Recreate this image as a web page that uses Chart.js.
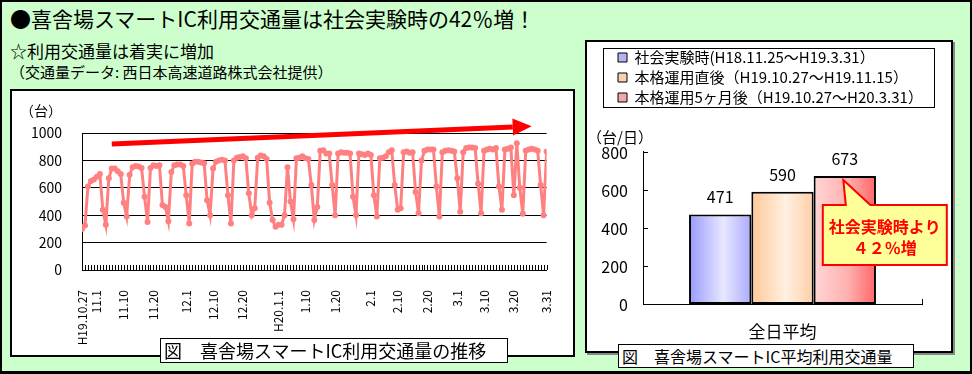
<!DOCTYPE html>
<html lang="ja">
<head>
<meta charset="utf-8">
<title>喜舎場スマートIC利用交通量</title>
<script src="https://cdn.jsdelivr.net/npm/chart.js@4/dist/chart.umd.min.js"></script>
<style>
  body { margin: 0; font-family: 'Noto Sans CJK JP', sans-serif; }
  #frame { position: relative; width: 972px; height: 374px; background: #ccffcc; box-shadow: inset 0 0 0 2px #000; overflow: hidden; }
  .txt { position: absolute; left: 10px; white-space: nowrap; color: #000; }
  .panel { position: absolute; background: #fff; border: 2px solid #000; box-sizing: border-box; }
  .panel canvas { position: absolute; left: 0; top: 0; }
  .cap { position: absolute; background: #fff; border: 1px solid #000; box-sizing: border-box; white-space: nowrap; padding-left: 3px; color: #000; }
</style>
</head>
<body>
<div id="frame">
  <div class="txt" style="top:6px;font-size:21px;line-height:25px;">●喜舎場スマートIC利用交通量は社会実験時の42％増！</div>
  <div class="txt" style="top:40px;font-size:17px;line-height:21px;">☆利用交通量は着実に増加</div>
  <div class="txt" style="top:63px;font-size:15px;line-height:18px;">（交通量データ: 西日本高速道路株式会社提供）</div>

  <div class="panel" style="left:10px;top:89px;width:565px;height:268px;">
    <canvas id="trendChart" width="561" height="264"></canvas>
  </div>
  <div class="cap" style="left:160px;top:338px;width:348px;height:25px;font-size:18px;line-height:23px;">図　喜舎場スマートIC利用交通量の推移</div>

  <div class="panel" style="left:585px;top:40px;width:368px;height:313px;box-shadow:2px 2px 0 #888;">
    <canvas id="avgChart" width="364" height="309"></canvas>
  </div>
  <div class="cap" style="left:618px;top:344px;width:296px;height:24px;font-size:16px;line-height:22px;">図　喜舎場スマートIC平均利用交通量</div>
  <div style="position:absolute;left:0;top:371px;width:972px;height:3px;background:#000;"></div>
</div>

<script>
// 日別交通量 H19.10.27 ～ H20.3.31（台）
const dailyCounts = [
  300, 325, 610, 650, 660, 680, 700, 440, 330,
  670, 740, 740, 720, 700, 490, 390,
  695, 750, 760, 755, 745, 535, 350,
  745, 765, 760, 765, 475, 460, 355,
  715, 765, 770, 770, 760, 545, 340,
  775, 790, 790, 785, 780, 510, 400,
  740, 790, 800, 805, 800, 545, 340,
  800, 820, 825, 830, 815, 560, 400,
  450, 820, 835, 830, 810, 490, 365,
  315, 330, 330, 400, 750, 500, 370,
  815, 820, 830, 815, 810, 620, 365,
  460, 870, 875, 850, 850, 620, 400,
  850, 860, 855, 855, 850, 535, 400,
  850, 845, 840, 850, 840, 545, 390,
  815, 820, 830, 860, 875, 620, 440,
  450, 860, 865, 855, 860, 570, 415,
  800, 870, 880, 880, 880, 610, 390,
  860, 870, 875, 870, 865, 670, 425,
  860, 890, 895, 895, 890, 630, 415,
  870, 880, 885, 880, 890, 610, 440,
  880, 885, 895, 545, 925, 600, 410,
  870, 880, 885, 880, 870, 620, 400,
  865
];
const tickDays = [0, 5, 14, 24, 35, 44, 54, 66, 75, 85, 97, 106, 116, 126, 135, 145, 156];
const tickNames = ['H19.10.27', '11.1', '11.10', '11.20', '12.1', '12.10', '12.20', 'H20.1.1',
  '1.10', '1.20', '2.1', '2.10', '2.20', '3.1', '3.10', '3.20', '3.31'];

// 期間別の全日平均（台/日）
const avgCategory = ['全日平均'];
const periodNames = [
  '社会実験時(H18.11.25～H19.3.31）',
  '本格運用直後（H19.10.27～H19.11.15）',
  '本格運用5ヶ月後（H19.10.27～H20.3.31）'
];
const periodAverages = [471, 590, 673];

Chart.defaults.font.family = "'Noto Sans CJK JP', sans-serif";
Chart.defaults.color = '#000';

const FONT = "'Noto Sans CJK JP', sans-serif";

// ---- 左：推移グラフ ----
const arrowFrom = [10, 920];
const arrowTo = [151, 1050];

const trendExtras = {
  id: 'trendExtras',
  afterDatasetsDraw(chart) {
    const { ctx, scales: { x, y } } = chart;
    const x0 = x.getPixelForValue(arrowFrom[0]), y0 = y.getPixelForValue(arrowFrom[1]);
    const x1 = x.getPixelForValue(arrowTo[0]), y1 = y.getPixelForValue(arrowTo[1]);
    const ang = Math.atan2(y1 - y0, x1 - x0);
    const head = 19, half = 8.5;
    const bx = x1 - head * Math.cos(ang), by = y1 - head * Math.sin(ang);
    ctx.save();
    ctx.strokeStyle = '#ff0000';
    ctx.fillStyle = '#ff0000';
    ctx.lineWidth = 5;
    ctx.beginPath();
    ctx.moveTo(x0, y0);
    ctx.lineTo(bx, by);
    ctx.stroke();
    ctx.beginPath();
    ctx.moveTo(x1, y1);
    ctx.lineTo(bx + half * Math.sin(ang), by - half * Math.cos(ang));
    ctx.lineTo(bx - half * Math.sin(ang), by + half * Math.cos(ang));
    ctx.closePath();
    ctx.fill();
    ctx.restore();
  },
  afterDraw(chart) {
    const { ctx, chartArea, scales } = chart;
    ctx.save();
    ctx.strokeStyle = '#000';
    ctx.lineWidth = 1;
    ctx.beginPath();
    for (let i = 0; i < dailyCounts.length; i++) {
      const px = Math.round(scales.x.getPixelForValue(i)) + 0.5;
      ctx.moveTo(px, chartArea.bottom);
      ctx.lineTo(px, chartArea.bottom - 5);
    }
    ctx.stroke();
    ctx.fillStyle = '#000';
    ctx.font = '14px ' + FONT;
    ctx.textAlign = 'right';
    ctx.textBaseline = 'middle';
    ctx.fillText('（台）', chartArea.left - 20, chartArea.top - 22);
    ctx.restore();
  }
};

new Chart(document.getElementById('trendChart'), {
  type: 'line',
  data: {
    datasets: [{
      data: dailyCounts.map((v, i) => ({ x: i, y: v })),
      borderColor: '#ff8080',
      backgroundColor: '#ff8080',
      borderWidth: 3,
      pointRadius: 3,
      pointBorderWidth: 0,
      pointBackgroundColor: '#ff8080',
      tension: 0
    }]
  },
  options: {
    responsive: false,
    animation: false,
    layout: { padding: { top: 42, left: 0, right: 21, bottom: 0 } },
    plugins: { legend: { display: false }, tooltip: { enabled: false } },
    scales: {
      x: {
        type: 'linear',
        min: 0,
        max: dailyCounts.length - 1,
        afterBuildTicks: (scale) => { scale.ticks = tickDays.map(v => ({ value: v })); },
        afterFit: (scale) => { scale.height = 85; },
        grid: { display: false },
        border: { display: true, color: '#000', width: 1 },
        ticks: {
          autoSkip: false,
          minRotation: 90,
          maxRotation: 90,
          padding: 12,
          font: { size: 12 },
          callback: (v) => tickNames[tickDays.indexOf(v)]
        }
      },
      y: {
        min: 0,
        max: 1000,
        afterFit: (scale) => { scale.width = 70; },
        grid: { color: '#000', lineWidth: 1, drawTicks: false },
        border: { display: true, color: '#000', width: 1 },
        ticks: { stepSize: 200, padding: 20, font: { size: 14 }, callback: (v) => String(v) }
      }
    }
  },
  plugins: [trendExtras]
});

// ---- 右：平均利用交通量 ----
const barStops = [
  ['#9999ff', '#e8e8ff', '#aaaaff'],
  ['#ffc896', '#fff0e2', '#ffcfa6'],
  ['#ffd6d6', '#ffb0b0', '#ff6666']
];
const legendFills = ['#b4b4f4', '#f8d2ae', '#f2a8a8'];
const CAT_PCT = 0.67;

function barFill(stops) {
  return (c) => {
    const chart = c.chart;
    const xs = chart.scales.x;
    if (!xs || !chart.chartArea) return stops[1];
    const groupW = (xs.right - xs.left) * CAT_PCT;
    const w = groupW / periodAverages.length;
    const left = xs.getPixelForValue(0) - groupW / 2 + c.datasetIndex * w;
    const g = chart.ctx.createLinearGradient(left, 0, left + w, 0);
    g.addColorStop(0, stops[0]);
    g.addColorStop(0.55, stops[1]);
    g.addColorStop(1, stops[2]);
    return g;
  };
}

const avgExtras = {
  id: 'avgExtras',
  afterDraw(chart) {
    const { ctx, chartArea, scales: { y }, legend } = chart;
    ctx.save();
    // 内向きの目盛と目盛ラベル
    ctx.strokeStyle = '#000';
    ctx.lineWidth = 1;
    ctx.fillStyle = '#000';
    ctx.font = '16px ' + FONT;
    ctx.textAlign = 'right';
    ctx.textBaseline = 'middle';
    ctx.beginPath();
    y.ticks.forEach(t => {
      const py = Math.round(y.getPixelForValue(t.value)) + 0.5;
      ctx.moveTo(chartArea.left, py);
      ctx.lineTo(chartArea.left + 5, py);
      ctx.fillText(String(t.value), chartArea.left - 15, py);
    });
    ctx.moveTo(Math.round(chartArea.right) + 0.5, chartArea.bottom);
    ctx.lineTo(Math.round(chartArea.right) + 0.5, chartArea.bottom - 5);
    ctx.stroke();

    // 凡例の枠
    ctx.font = '15px ' + FONT;
    const textW = Math.max(...periodNames.map(n => ctx.measureText(n).width));
    const boxL = legend.left - 9.5;
    const boxR = legend.left + 5 + 9 + 7.5 + textW + 12;
    ctx.strokeRect(boxL, legend.top + 3.5, Math.round(boxR - boxL), 59);

    // 単位
    ctx.textAlign = 'left';
    ctx.fillText('（台/日）', 0, chartArea.top - 15);

    // 値ラベル
    ctx.font = '16px ' + FONT;
    ctx.textAlign = 'center';
    chart.data.datasets.forEach((d, i) => {
      const bar = chart.getDatasetMeta(i).data[0];
      ctx.fillText(String(d.data[0]), bar.x, bar.y - 17);
    });

    // 吹き出し
    const b3 = chart.getDatasetMeta(2).data[0];
    const bx = b3.x, by = b3.y;
    ctx.beginPath();
    ctx.moveTo(bx - 22, by + 29);
    ctx.lineTo(bx + 1, by + 29);
    ctx.lineTo(bx - 1.5, by + 4);
    ctx.lineTo(bx + 25.5, by + 29);
    ctx.lineTo(bx + 102, by + 29);
    ctx.lineTo(bx + 102, by + 89);
    ctx.lineTo(bx - 22, by + 89);
    ctx.closePath();
    ctx.fillStyle = '#ffff99';
    ctx.fill();
    ctx.strokeStyle = '#ff0000';
    ctx.lineWidth = 2;
    ctx.stroke();
    ctx.fillStyle = '#ff0000';
    ctx.font = 'bold 16px ' + FONT;
    ctx.fillText('社会実験時より', bx + 40, by + 51);
    ctx.fillText('４２％増', bx + 40, by + 72);
    ctx.restore();
  }
};

new Chart(document.getElementById('avgChart'), {
  type: 'bar',
  data: {
    labels: avgCategory,
    datasets: periodNames.map((name, i) => ({
      label: name,
      data: [periodAverages[i]],
      backgroundColor: barFill(barStops[i]),
      borderColor: '#000',
      borderWidth: 2,
      borderSkipped: false,
      categoryPercentage: CAT_PCT,
      barPercentage: 1
    }))
  },
  options: {
    responsive: false,
    animation: false,
    layout: { padding: { top: 3, left: 26, right: 29, bottom: 0 } },
    plugins: {
      tooltip: { enabled: false },
      title: { display: true, text: ' ', weight: 500, font: { size: 14 }, padding: { top: 12, bottom: 8 } },
      legend: {
        position: 'top',
        align: 'start',
        labels: {
          boxWidth: 9,
          boxHeight: 9,
          padding: 5,
          font: { size: 15 },
          color: '#000',
          generateLabels: (chart) => chart.data.datasets.map((d, i) => ({
            text: d.label,
            fillStyle: legendFills[i],
            strokeStyle: '#000',
            lineWidth: 1,
            hidden: false,
            datasetIndex: i
          }))
        }
      }
    },
    scales: {
      x: {
        afterFit: (scale) => { scale.height = 47; },
        grid: { display: false },
        border: { display: true, color: '#000', width: 1 },
        ticks: { padding: 9, font: { size: 17 } }
      },
      y: {
        min: 0,
        max: 800,
        afterFit: (scale) => { scale.width = 30; },
        grid: { display: false },
        border: { display: true, color: '#000', width: 1 },
        ticks: { stepSize: 200, display: false }
      }
    }
  },
  plugins: [avgExtras]
});
</script>
</body>
</html>
